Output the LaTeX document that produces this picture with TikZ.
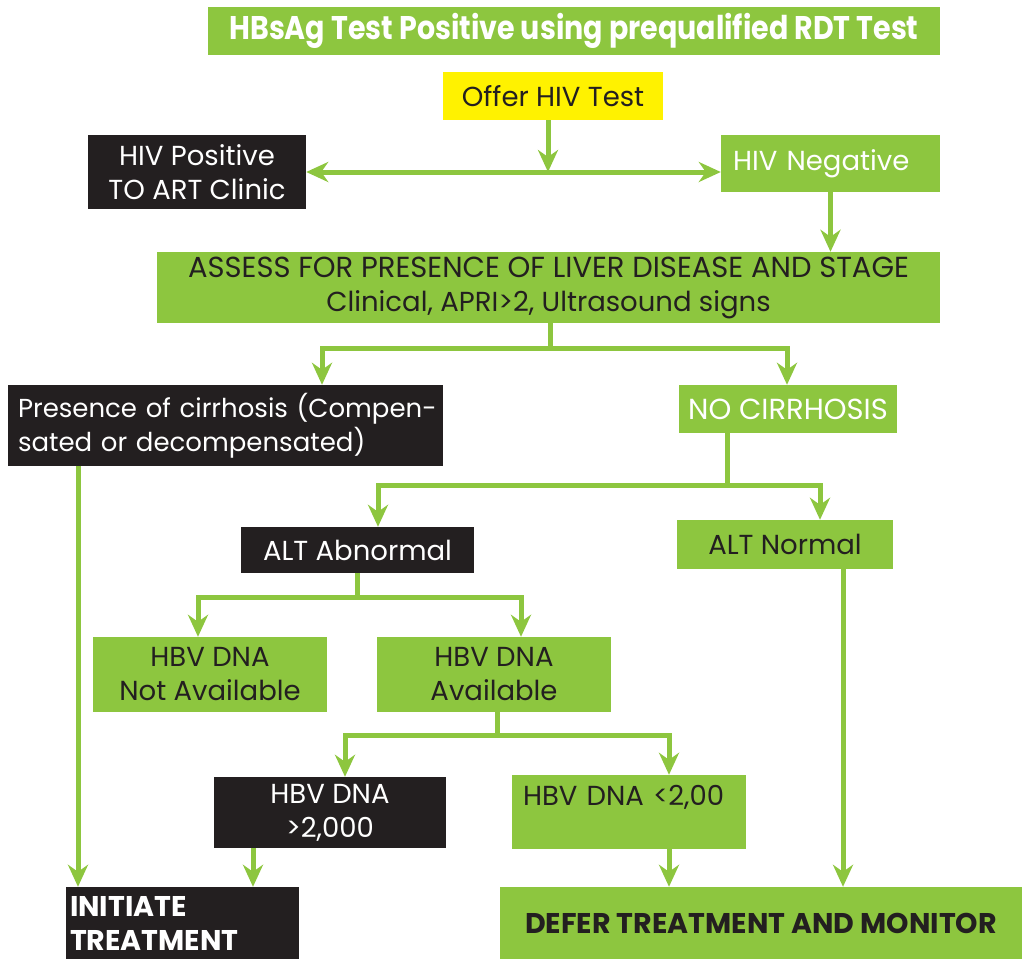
\documentclass[tikz,border=0pt]{standalone}
\usepackage{fontspec}
\setmainfont{Poppins}
\usetikzlibrary{arrows.meta}
\definecolor{lime}{HTML}{8DC63F}
\definecolor{ink}{HTML}{231F20}
\definecolor{sun}{HTML}{FFF200}
\newcommand{\bodyfont}{\fontsize{27.5}{34}\selectfont}
\newcommand{\capsfont}{\fontsize{29}{34}\selectfont}
\newcommand{\heavyfont}{\fontsize{28.5}{34}\selectfont\bfseries}
\begin{document}
\begin{tikzpicture}[x=1pt,y=-1pt,
  box/.style={rectangle, inner sep=0pt, align=center, font=\bodyfont},
  gboxw/.style={box, fill=lime, text=white},
  gboxd/.style={box, fill=lime, text=ink},
  kbox/.style={box, fill=ink, text=white},
  ybox/.style={box, fill=sun, text=ink},
  plain/.style={draw=lime, line width=5pt},
  conn/.style={plain, -{Stealth[length=22pt,width=20pt,inset=7pt]}},
  conn2/.style={plain, {Stealth[length=22pt,width=20pt,inset=7pt]}-{Stealth[length=22pt,width=20pt,inset=7pt]}}]
\useasboundingbox (0,0) rectangle (1022,959);

% boxes
\node[gboxw, minimum width=732pt, minimum height=48pt,
  font=\fontsize{28.5}{30}\selectfont\bfseries] (title) at (574,31)
  {\scalebox{1}[1.15]{HBsAg Test Positive using prequalified RDT Test}};
\node[ybox, minimum width=220pt, minimum height=48pt] (offer) at (553,96) {Offer HIV Test};
\node[kbox, minimum width=218pt, minimum height=74pt] (hivpos) at (197,172) {HIV Positive\\TO ART Clinic};
\node[gboxw, minimum width=219pt, minimum height=57pt, text width=195pt, inner xsep=12pt, align=left] (hivneg) at (830.5,163.5) {HIV Negative};
\node[gboxd, minimum width=783pt, minimum height=71pt] (assess) at (548.5,287.5)
  {{\capsfont ASSESS FOR PRESENCE OF LIVER DISEASE AND STAGE}\\Clinical, APRI>2, Ultrasound signs};
\node[kbox, minimum width=435pt, minimum height=81pt, text width=425pt, inner xsep=5pt, align=left,
  font=\fontsize{26}{34}\selectfont] (cirr) at (225.5,425.5)
  {\hspace*{5pt}\mbox{Presence of cirrhosis (Compen-}\\\hspace*{5pt}\mbox{sated or decompensated)}};
\node[gboxw, minimum width=218pt, minimum height=48pt, font=\capsfont] (nocirr) at (788,409) {NO CIRRHOSIS};
\node[kbox, minimum width=233pt, minimum height=46pt] (altab) at (357.5,550) {ALT Abnormal};
\node[gboxd, minimum width=216pt, minimum height=49pt] (altn) at (785,544.5) {ALT Normal};
\node[gboxd, minimum width=234pt, minimum height=75pt] (notav) at (210,674.5) {HBV DNA\\Not Available};
\node[gboxd, minimum width=234pt, minimum height=75pt] (avail) at (494,674.5) {HBV DNA\\Available};
\node[kbox, minimum width=232pt, minimum height=71pt] (gt) at (330,812.5) {HBV DNA\\>2,000};
\node[gboxd, minimum width=234pt, minimum height=74pt, text width=212pt, inner xsep=11pt, align=left] (lt) at (629,812)
  {HBV DNA <2,00\\\mbox{}};
\node[kbox, minimum width=233pt, minimum height=72pt, text width=225pt, inner xsep=4pt, align=left,
  font=\heavyfont] (init) at (182.5,923) {INITIATE\\TREATMENT};
\node[gboxd, minimum width=522pt, minimum height=72pt, font=\heavyfont] (defer) at (761,923)
  {DEFER TREATMENT AND MONITOR};

% HIV test branches
\draw[conn] ([xshift=-5pt]offer.south) -- ([xshift=-5pt]offer.south |- hivpos.east);
\draw[conn2] (hivpos.east) -- (hivpos.east -| hivneg.west);
\draw[conn] (hivneg.south) -- (hivneg.south |- assess.north);

% liver assessment split
\coordinate (s1) at ([xshift=1.5pt,yshift=-25pt]assess.south);
\draw[plain] ([xshift=1.5pt]assess.south) -- (s1);
\draw[conn] (s1) -| ([xshift=96.5pt]cirr.north);
\draw[conn] (s1) -| ([xshift=-1pt]nocirr.north);

% ALT split
\coordinate (s2) at ([xshift=-61pt,yshift=-52pt]nocirr.south);
\draw[plain] ([xshift=-61pt]nocirr.south) -- (s2);
\draw[conn] (s2) -| ([xshift=20.5pt]altab.north);
\draw[conn] (s2) -| ([xshift=35pt]altn.north);

% HBV DNA availability split
\coordinate (s3) at ([yshift=-24pt]altab.south);
\draw[plain] (altab.south) -- (s3);
\draw[conn] (s3) -| ([xshift=-12pt]notav.north);
\draw[conn] (s3) -| ([xshift=27pt]avail.north);

% HBV DNA level split
\coordinate (s4) at ([xshift=3pt,yshift=-23pt]avail.south);
\draw[plain] ([xshift=3pt]avail.south) -- (s4);
\draw[conn] (s4) -| ([xshift=15pt]gt.north);
\draw[conn] (s4) -| ([xshift=40pt]lt.north);

% outcomes
\draw[conn] ([xshift=-147.5pt]cirr.south) -- ([xshift=-104.5pt]init.north);
\draw[conn] ([xshift=-77pt]gt.south) -- ([xshift=70.5pt]init.north);
\draw[conn] ([xshift=40pt]lt.south) -- ([xshift=-92pt]defer.north);
\draw[conn] ([xshift=58pt]altn.south) -- ([xshift=82pt]defer.north);
\end{tikzpicture}
\end{document}
